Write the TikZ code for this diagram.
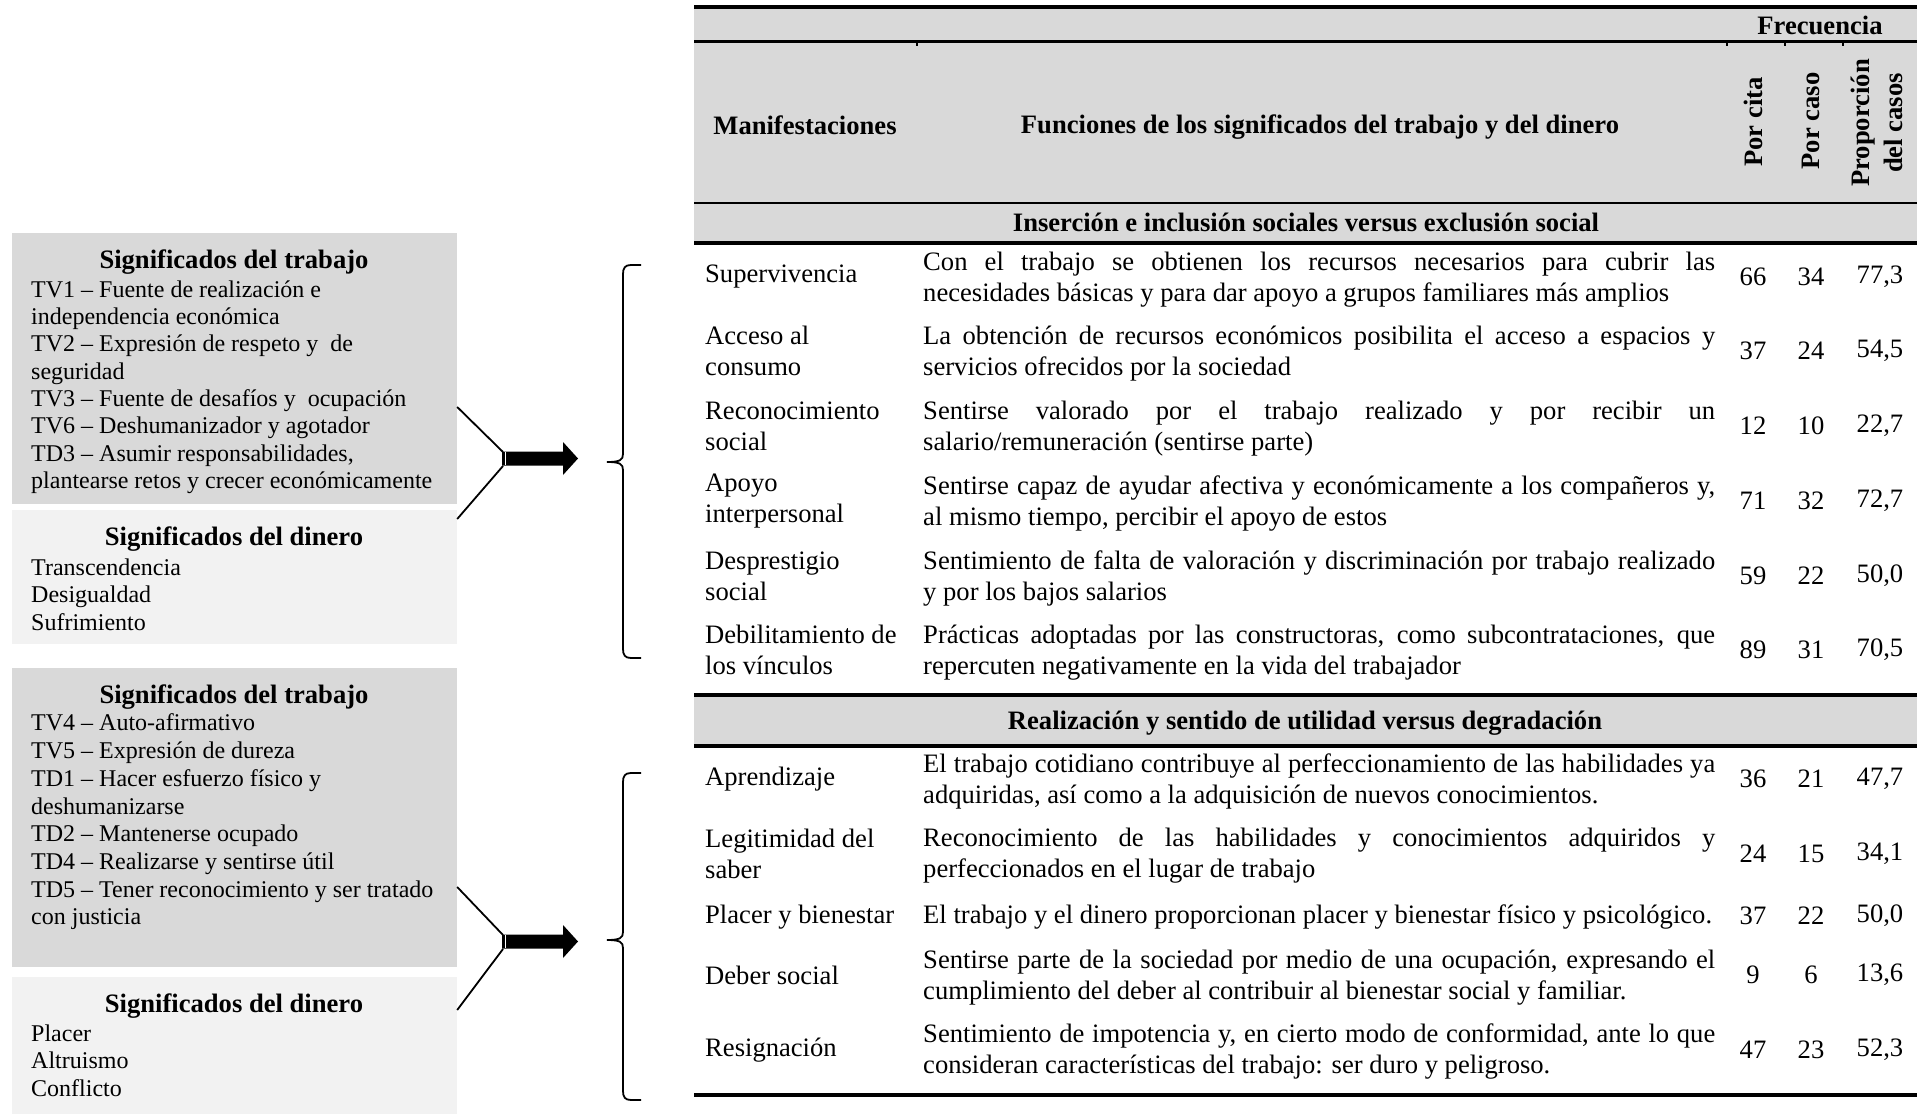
\documentclass[tikz,border=0pt]{standalone}
\usepackage{fontspec}
\setmainfont{Liberation Serif}
\definecolor{gA}{HTML}{D9D9D9}
\definecolor{gB}{HTML}{F2F2F2}
\begin{document}
\begin{tikzpicture}[x=1pt,y=-1pt,
  tb/.style={inner sep=0pt,font=\fontsize{26.6}{31}\selectfont},
  tbb/.style={inner sep=0pt,font=\fontsize{26.6}{31}\selectfont\bfseries},
  rot/.style={inner sep=0pt,font=\fontsize{26.6}{33}\selectfont\bfseries,rotate=90,align=center},
  man/.style={tb,anchor=west,align=left},
  desc/.style={tb,anchor=west,align=left},
  num/.style={tb,anchor=center},
  lbody/.style={inner sep=0pt,anchor=west,align=left,font=\fontsize{24}{27.3}\selectfont},
  ltitle/.style={inner sep=0pt,font=\fontsize{26.6}{31}\selectfont\bfseries},
  boxA/.style={draw=none,fill=gA,inner sep=0pt,minimum width=445pt},
  boxB/.style={draw=none,fill=gB,inner sep=0pt,minimum width=445pt},
  conn/.style={line width=1.8pt},
  bracestyle/.style={line width=1.8pt},
  thick rule/.style={line width=4pt},
  thin rule/.style={line width=1.5pt}]
\useasboundingbox (0,0) rectangle (1917,1115);

% ---------------- table backgrounds and rules ----------------
\fill[gA] (694,7) rectangle (1917,243);
\fill[gA] (694,695) rectangle (1917,745.5);
\draw[thick rule] (694,7) -- (1917,7);
\draw[line width=3.5pt] (694,41.5) -- (1917,41.5);
\foreach \tx in {917,1727,1785,1843} \draw[line width=1.5pt] (\tx,43) -- (\tx,46.5);
\draw[thin rule] (694,203) -- (1917,203);
\draw[thick rule] (694,243) -- (1917,243);
\draw[thick rule] (694,695) -- (1917,695);
\draw[thick rule] (694,745.5) -- (1917,745.5);
\draw[thick rule] (694,1095) -- (1917,1095);

% ---------------- header ----------------
\node[tbb] (frec) at (1820,25) {Frecuencia};
\node[tbb] (hman) at (805,125) {Manifestaciones};
\node[tbb] (hfun) at (1320,127) {Funciones de los significados del trabajo y del dinero};
\node[rot] (hcita) at (1753,122) {Por cita};
\node[rot] (hcaso) at (1811,121) {Por caso};
\node[rot] (hprop) at (1877,123) {Proporción\\del casos};
\node[tbb] (sec1) at (1306,222) {Inserción e inclusión sociales versus exclusión social};
\node[tbb] (sec2) at (1305,723) {Realización y sentido de utilidad versus degradación};

% ---------------- section 1 rows ----------------
\node[man] (m1) at (705,277) {Supervivencia};
\node[desc] (d1) at (923,280) {\makebox[792pt][s]{Con el trabajo se obtienen los recursos necesarios para cubrir las}\\necesidades básicas y para dar apoyo a grupos familiares más amplios};
\node[num] (a1) at (1753,277) {66};
\node[num] (b1) at (1811,277) {34};
\node[num] (c1) at (1880,277) {77,3};

\node[man] (m2) at (705,351) {Acceso al\\consumo};
\node[desc] (d2) at (923,353.5) {\makebox[792pt][s]{La obtención de recursos económicos posibilita el acceso a espacios y}\\servicios ofrecidos por la sociedad};
\node[num] (a2) at (1753,351) {37};
\node[num] (b2) at (1811,351) {24};
\node[num] (c2) at (1880,351) {54,5};

\node[man] (m3) at (705,426) {Reconocimiento\\social};
\node[desc] (d3) at (923,428.5) {\makebox[792pt][s]{Sentirse valorado por el trabajo realizado y por recibir un}\\salario/remuneración (sentirse parte)};
\node[num] (a3) at (1753,426) {12};
\node[num] (b3) at (1811,426) {10};
\node[num] (c3) at (1880,426) {22,7};

\node[man] (m4) at (705,501) {Apoyo\\interpersonal};
\node[desc] (d4) at (923,503.5) {\makebox[792pt][s]{Sentirse capaz de ayudar afectiva y económicamente a los compañeros y,}\\al mismo tiempo, percibir el apoyo de estos};
\node[num] (a4) at (1753,501) {71};
\node[num] (b4) at (1811,501) {32};
\node[num] (c4) at (1880,501) {72,7};

\node[man] (m5) at (705,576) {Desprestigio\\social};
\node[desc] (d5) at (923,578.5) {\makebox[792pt][s]{Sentimiento de falta de valoración y discriminación por trabajo realizado}\\y por los bajos salarios};
\node[num] (a5) at (1753,576) {59};
\node[num] (b5) at (1811,576) {22};
\node[num] (c5) at (1880,576) {50,0};

\node[man] (m6) at (705,650) {Debilitamiento de\\los vínculos};
\node[desc] (d6) at (923,652.5) {\makebox[792pt][s]{Prácticas adoptadas por las constructoras, como subcontrataciones, que}\\repercuten negativamente en la vida del trabajador};
\node[num] (a6) at (1753,650) {89};
\node[num] (b6) at (1811,650) {31};
\node[num] (c6) at (1880,650) {70,5};

% ---------------- section 2 rows ----------------
\node[man] (m7) at (705,779) {Aprendizaje};
\node[desc] (d7) at (923,781.5) {\makebox[792pt][s]{El trabajo cotidiano contribuye al perfeccionamiento de las habilidades ya}\\adquiridas, así como a la adquisición de nuevos conocimientos.};
\node[num] (a7) at (1753,779) {36};
\node[num] (b7) at (1811,779) {21};
\node[num] (c7) at (1880,779) {47,7};

\node[man] (m8) at (705,854) {Legitimidad del\\saber};
\node[desc] (d8) at (923,855.5) {\makebox[792pt][s]{Reconocimiento de las habilidades y conocimientos adquiridos y}\\perfeccionados en el lugar de trabajo};
\node[num] (a8) at (1753,854) {24};
\node[num] (b8) at (1811,854) {15};
\node[num] (c8) at (1880,854) {34,1};

\node[man] (m9) at (705,917) {Placer y bienestar};
\node[desc] (d9) at (923,917) {El trabajo y el dinero proporcionan placer y bienestar físico y psicológico.};
\node[num] (a9) at (1753,916) {37};
\node[num] (b9) at (1811,916) {22};
\node[num] (c9) at (1880,916) {50,0};

\node[man] (m10) at (705,975) {Deber social};
\node[desc] (d10) at (923,977.5) {\makebox[792pt][s]{Sentirse parte de la sociedad por medio de una ocupación, expresando el}\\cumplimiento del deber al contribuir al bienestar social y familiar.};
\node[num] (a10) at (1753,975) {9};
\node[num] (b10) at (1811,975) {6};
\node[num] (c10) at (1880,975) {13,6};

\node[man] (m11) at (705,1050) {Resignación};
\node[desc] (d11) at (923,1051.5) {\makebox[792pt][s]{Sentimiento de impotencia y, en cierto modo de conformidad, ante lo que}\\consideran características del trabajo: ser duro y peligroso.};
\node[num] (a11) at (1753,1050) {47};
\node[num] (b11) at (1811,1050) {23};
\node[num] (c11) at (1880,1050) {52,3};

% ---------------- left boxes ----------------
\node[boxA,minimum height=271pt] (box1) at (234.5,368.5) {};
\node[boxB,minimum height=134pt] (box2) at (234.5,577) {};
\node[boxA,minimum height=299pt] (box3) at (234.5,817.5) {};
\node[boxB,minimum height=137pt] (box4) at (234.5,1045.5) {};

\node[ltitle] (t1) at (234,262) {Significados del trabajo};
\node[lbody] (l1) at (31,387) {TV1 – Fuente de realización e\\independencia económica\\TV2 – Expresión de respeto y~ de\\seguridad\\TV3 – Fuente de desafíos y~ ocupación\\TV6 – Deshumanizador y agotador\\TD3 – Asumir responsabilidades,\\plantearse retos y crecer económicamente};
\node[ltitle] (t2) at (234,539.5) {Significados del dinero};
\node[lbody] (l2) at (31,594.5) {Transcendencia\\Desigualdad\\Sufrimiento};
\node[ltitle] (t3) at (234,697.5) {Significados del trabajo};
\node[lbody,font=\fontsize{24}{27.7}\selectfont] (l3) at (31,822) {TV4 – Auto-afirmativo\\TV5 – Expresión de dureza\\TD1 – Hacer esfuerzo físico y\\deshumanizarse\\TD2 – Mantenerse ocupado\\TD4 – Realizarse y sentirse útil\\TD5 – Tener reconocimiento y ser tratado\\con justicia};
\node[ltitle] (t4) at (234,1006) {Significados del dinero};
\node[lbody] (l4) at (31,1060.5) {Placer\\Altruismo\\Conflicto};

% ---------------- connectors and arrows ----------------
\coordinate (ja1) at (503,452);
\coordinate (jb1) at (503,466);
\draw[conn] (box1.east |- 0,407) -- (ja1);
\draw[conn] (box2.east |- 0,519) -- (jb1);
\fill (502,451.5) -- (563,451.5) -- (563,442) -- (578,458.5) -- (563,475) -- (563,465.5) -- (502,465.5) -- cycle;
\draw[white,line width=0.8pt] (505,452) -- (505,465);

\coordinate (ja2) at (503,935);
\coordinate (jb2) at (503,949);
\draw[conn] (box3.east |- 0,887) -- (ja2);
\draw[conn] (box4.east |- 0,1010) -- (jb2);
\fill (502,934.5) -- (563,934.5) -- (563,925) -- (578,941.5) -- (563,958) -- (563,948.5) -- (502,948.5) -- cycle;
\draw[white,line width=0.8pt] (505,935) -- (505,948);

% ---------------- braces ----------------
\draw[bracestyle] (641,265) -- (631,265) .. controls (625,265) and (623,268) .. (623,274)
  -- (623,454) .. controls (623,460) and (620,462) .. (607,462)
  .. controls (620,462) and (623,464) .. (623,470)
  -- (623,649) .. controls (623,655) and (625,658) .. (631,658) -- (641,658);
\draw[bracestyle] (641,773) -- (631,773) .. controls (625,773) and (623,776) .. (623,782)
  -- (623,932) .. controls (623,938) and (620,940) .. (607,940)
  .. controls (620,940) and (623,942) .. (623,948)
  -- (623,1091) .. controls (623,1097) and (625,1100) .. (631,1100) -- (641,1100);
\end{tikzpicture}
\end{document}
